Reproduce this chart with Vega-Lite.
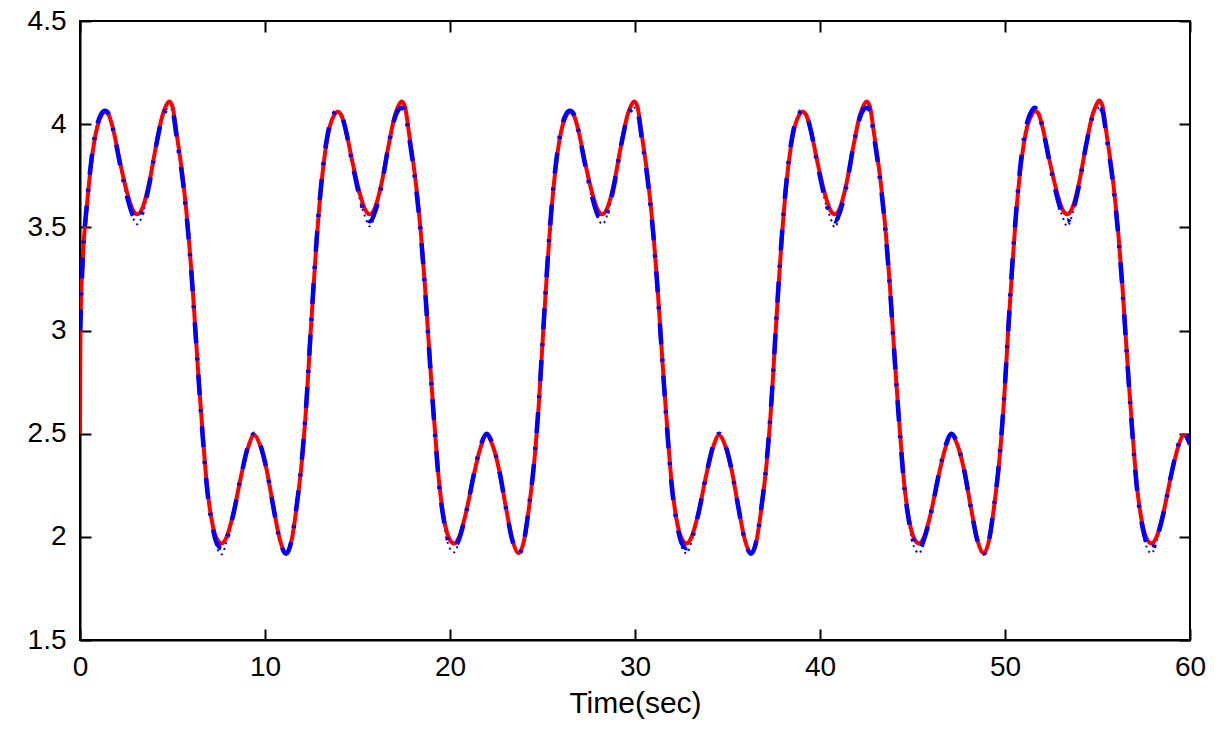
{
"$schema":"https://vega.github.io/schema/vega-lite/v6.json",
"width":1110,"height":619,
"autosize":"none",
"padding":{"left":80,"top":21,"right":25,"bottom":102},
"background":"white",
"config":{"view":{"stroke":"black","strokeWidth":2},
"axis":{"grid":false,"domainColor":"black","domainWidth":2,"tickColor":"black","tickWidth":2,"tickSize":-11,"labelFont":"Liberation Sans","labelFontSize":28,"labelColor":"black","titleFont":"Liberation Sans","titleFontSize":30,"titleFontWeight":"normal","titleColor":"black","labelOverlap":false,"labelFlush":false}},
"data":{"values":[
{"t":0,"r":2.5,"b":3.0,"d":3.0},
{"t":0.02,"r":2.95,"b":3.03,"d":3.03},
{"t":0.04,"r":3.085,"b":3.09,"d":3.09},
{"t":0.145,"r":3.34,"b":3.34,"d":3.34},
{"t":0.37,"r":3.6,"b":3.61,"d":3.61},
{"t":0.62,"r":3.82,"b":3.83,"d":3.83},
{"t":0.94,"r":3.99,"b":4.0,"d":4.0},
{"t":1.15,"r":4.04,"b":4.05,"d":4.05},
{"t":1.35,"r":4.06,"b":4.065,"d":4.065},
{"t":1.55,"r":4.045,"b":4.05,"d":4.05},
{"t":1.75,"r":3.99,"b":3.99,"d":3.99},
{"t":2.2,"r":3.8,"b":3.79,"d":3.79},
{"t":2.57,"r":3.66,"b":3.64,"d":3.63},
{"t":2.85,"r":3.585,"b":3.56,"d":3.55},
{"t":3.1,"r":3.563,"b":3.535,"d":3.515},
{"t":3.4,"r":3.6,"b":3.58,"d":3.57},
{"t":3.75,"r":3.72,"b":3.71,"d":3.71},
{"t":4.1,"r":3.89,"b":3.89,"d":3.89},
{"t":4.45,"r":4.04,"b":4.03,"d":4.03},
{"t":4.65,"r":4.09,"b":4.07,"d":4.07},
{"t":4.83,"r":4.11,"b":4.08,"d":4.08},
{"t":5.0,"r":4.085,"b":4.065,"d":4.065},
{"t":5.22,"r":3.956,"b":3.94,"d":3.94},
{"t":5.59,"r":3.713,"b":3.7,"d":3.7},
{"t":5.86,"r":3.471,"b":3.46,"d":3.46},
{"t":6.07,"r":3.229,"b":3.22,"d":3.22},
{"t":6.25,"r":2.986,"b":2.98,"d":2.98},
{"t":6.43,"r":2.744,"b":2.74,"d":2.74},
{"t":6.63,"r":2.501,"b":2.49,"d":2.49},
{"t":6.85,"r":2.259,"b":2.25,"d":2.25},
{"t":7.12,"r":2.081,"b":2.07,"d":2.06},
{"t":7.39,"r":1.992,"b":1.97,"d":1.95},
{"t":7.66,"r":1.968,"b":1.945,"d":1.915},
{"t":7.93,"r":2.0,"b":1.99,"d":1.98},
{"t":8.29,"r":2.114,"b":2.11,"d":2.11},
{"t":8.74,"r":2.308,"b":2.31,"d":2.31},
{"t":9.1,"r":2.437,"b":2.445,"d":2.445},
{"t":9.41,"r":2.493,"b":2.5,"d":2.5},
{"t":9.73,"r":2.445,"b":2.45,"d":2.45},
{"t":10.09,"r":2.324,"b":2.325,"d":2.325},
{"t":10.45,"r":2.146,"b":2.145,"d":2.145},
{"t":10.81,"r":1.984,"b":1.98,"d":1.98},
{"t":11.14,"r":1.92,"b":1.918,"d":1.918},
{"t":11.44,"r":1.984,"b":1.985,"d":1.985},
{"t":11.71,"r":2.146,"b":2.15,"d":2.15},
{"t":11.98,"r":2.356,"b":2.36,"d":2.36},
{"t":12.25,"r":2.663,"b":2.67,"d":2.67},
{"t":12.466,"r":2.99,"b":2.99,"d":2.99},
{"t":12.696,"r":3.31,"b":3.32,"d":3.32},
{"t":12.936,"r":3.6,"b":3.61,"d":3.61},
{"t":13.186,"r":3.82,"b":3.83,"d":3.83},
{"t":13.506,"r":3.99,"b":4.0,"d":4.0},
{"t":13.716,"r":4.04,"b":4.05,"d":4.05},
{"t":13.916,"r":4.06,"b":4.065,"d":4.065},
{"t":14.116,"r":4.045,"b":4.05,"d":4.05},
{"t":14.316,"r":3.99,"b":3.99,"d":3.99},
{"t":14.766,"r":3.8,"b":3.79,"d":3.79},
{"t":15.136,"r":3.66,"b":3.64,"d":3.63},
{"t":15.416,"r":3.585,"b":3.56,"d":3.55},
{"t":15.666,"r":3.563,"b":3.53,"d":3.505},
{"t":15.966,"r":3.6,"b":3.58,"d":3.57},
{"t":16.316,"r":3.72,"b":3.71,"d":3.71},
{"t":16.666,"r":3.89,"b":3.89,"d":3.89},
{"t":17.016,"r":4.04,"b":4.03,"d":4.03},
{"t":17.216,"r":4.09,"b":4.07,"d":4.07},
{"t":17.396,"r":4.11,"b":4.08,"d":4.08},
{"t":17.566,"r":4.085,"b":4.065,"d":4.065},
{"t":17.786,"r":3.956,"b":3.94,"d":3.94},
{"t":18.156,"r":3.713,"b":3.7,"d":3.7},
{"t":18.426,"r":3.471,"b":3.46,"d":3.46},
{"t":18.636,"r":3.229,"b":3.22,"d":3.22},
{"t":18.816,"r":2.986,"b":2.98,"d":2.98},
{"t":18.996,"r":2.744,"b":2.74,"d":2.74},
{"t":19.196,"r":2.501,"b":2.49,"d":2.49},
{"t":19.416,"r":2.259,"b":2.25,"d":2.25},
{"t":19.686,"r":2.081,"b":2.07,"d":2.06},
{"t":19.956,"r":1.992,"b":1.97,"d":1.95},
{"t":20.226,"r":1.968,"b":1.95,"d":1.925},
{"t":20.496,"r":2.0,"b":1.99,"d":1.98},
{"t":20.856,"r":2.114,"b":2.11,"d":2.11},
{"t":21.306,"r":2.308,"b":2.31,"d":2.31},
{"t":21.666,"r":2.437,"b":2.445,"d":2.445},
{"t":21.976,"r":2.493,"b":2.5,"d":2.5},
{"t":22.296,"r":2.445,"b":2.45,"d":2.45},
{"t":22.656,"r":2.324,"b":2.325,"d":2.325},
{"t":23.016,"r":2.146,"b":2.145,"d":2.145},
{"t":23.376,"r":1.984,"b":1.98,"d":1.98},
{"t":23.706,"r":1.92,"b":1.918,"d":1.918},
{"t":24.006,"r":1.984,"b":1.985,"d":1.985},
{"t":24.276,"r":2.146,"b":2.15,"d":2.15},
{"t":24.546,"r":2.356,"b":2.36,"d":2.36},
{"t":24.816,"r":2.663,"b":2.67,"d":2.67},
{"t":25.033,"r":2.99,"b":2.99,"d":2.99},
{"t":25.263,"r":3.31,"b":3.32,"d":3.32},
{"t":25.503,"r":3.6,"b":3.61,"d":3.61},
{"t":25.753,"r":3.82,"b":3.83,"d":3.83},
{"t":26.073,"r":3.99,"b":4.0,"d":4.0},
{"t":26.283,"r":4.04,"b":4.05,"d":4.05},
{"t":26.483,"r":4.06,"b":4.065,"d":4.065},
{"t":26.683,"r":4.045,"b":4.05,"d":4.05},
{"t":26.883,"r":3.99,"b":3.99,"d":3.99},
{"t":27.333,"r":3.8,"b":3.79,"d":3.79},
{"t":27.703,"r":3.66,"b":3.64,"d":3.63},
{"t":27.983,"r":3.585,"b":3.56,"d":3.55},
{"t":28.233,"r":3.563,"b":3.535,"d":3.515},
{"t":28.533,"r":3.6,"b":3.58,"d":3.57},
{"t":28.883,"r":3.72,"b":3.71,"d":3.71},
{"t":29.233,"r":3.89,"b":3.89,"d":3.89},
{"t":29.583,"r":4.04,"b":4.03,"d":4.03},
{"t":29.783,"r":4.09,"b":4.07,"d":4.07},
{"t":29.963,"r":4.11,"b":4.08,"d":4.08},
{"t":30.133,"r":4.085,"b":4.065,"d":4.065},
{"t":30.353,"r":3.956,"b":3.94,"d":3.94},
{"t":30.723,"r":3.713,"b":3.7,"d":3.7},
{"t":30.993,"r":3.471,"b":3.46,"d":3.46},
{"t":31.203,"r":3.229,"b":3.22,"d":3.22},
{"t":31.383,"r":2.986,"b":2.98,"d":2.98},
{"t":31.563,"r":2.744,"b":2.74,"d":2.74},
{"t":31.763,"r":2.501,"b":2.49,"d":2.49},
{"t":31.983,"r":2.259,"b":2.25,"d":2.25},
{"t":32.253,"r":2.081,"b":2.07,"d":2.06},
{"t":32.523,"r":1.992,"b":1.97,"d":1.95},
{"t":32.793,"r":1.968,"b":1.945,"d":1.92},
{"t":33.063,"r":2.0,"b":1.99,"d":1.98},
{"t":33.423,"r":2.114,"b":2.11,"d":2.11},
{"t":33.873,"r":2.308,"b":2.31,"d":2.31},
{"t":34.233,"r":2.437,"b":2.445,"d":2.445},
{"t":34.543,"r":2.493,"b":2.5,"d":2.5},
{"t":34.863,"r":2.445,"b":2.45,"d":2.45},
{"t":35.223,"r":2.324,"b":2.325,"d":2.325},
{"t":35.583,"r":2.146,"b":2.145,"d":2.145},
{"t":35.943,"r":1.984,"b":1.98,"d":1.98},
{"t":36.273,"r":1.92,"b":1.918,"d":1.918},
{"t":36.573,"r":1.984,"b":1.985,"d":1.985},
{"t":36.843,"r":2.146,"b":2.15,"d":2.15},
{"t":37.113,"r":2.356,"b":2.36,"d":2.36},
{"t":37.383,"r":2.663,"b":2.67,"d":2.67},
{"t":37.599,"r":2.99,"b":2.99,"d":2.99},
{"t":37.829,"r":3.31,"b":3.32,"d":3.32},
{"t":38.069,"r":3.6,"b":3.61,"d":3.61},
{"t":38.319,"r":3.82,"b":3.83,"d":3.83},
{"t":38.639,"r":3.99,"b":4.0,"d":4.0},
{"t":38.849,"r":4.04,"b":4.05,"d":4.05},
{"t":39.049,"r":4.06,"b":4.065,"d":4.065},
{"t":39.249,"r":4.045,"b":4.05,"d":4.05},
{"t":39.449,"r":3.99,"b":3.99,"d":3.99},
{"t":39.899,"r":3.8,"b":3.79,"d":3.79},
{"t":40.269,"r":3.66,"b":3.64,"d":3.63},
{"t":40.549,"r":3.585,"b":3.56,"d":3.55},
{"t":40.799,"r":3.563,"b":3.53,"d":3.5},
{"t":41.099,"r":3.6,"b":3.58,"d":3.57},
{"t":41.449,"r":3.72,"b":3.71,"d":3.71},
{"t":41.799,"r":3.89,"b":3.89,"d":3.89},
{"t":42.149,"r":4.04,"b":4.03,"d":4.03},
{"t":42.349,"r":4.09,"b":4.07,"d":4.07},
{"t":42.529,"r":4.11,"b":4.08,"d":4.08},
{"t":42.699,"r":4.085,"b":4.065,"d":4.065},
{"t":42.919,"r":3.956,"b":3.94,"d":3.94},
{"t":43.289,"r":3.713,"b":3.7,"d":3.7},
{"t":43.559,"r":3.471,"b":3.46,"d":3.46},
{"t":43.769,"r":3.229,"b":3.22,"d":3.22},
{"t":43.949,"r":2.986,"b":2.98,"d":2.98},
{"t":44.129,"r":2.744,"b":2.74,"d":2.74},
{"t":44.329,"r":2.501,"b":2.49,"d":2.49},
{"t":44.549,"r":2.259,"b":2.25,"d":2.25},
{"t":44.819,"r":2.081,"b":2.07,"d":2.06},
{"t":45.089,"r":1.992,"b":1.97,"d":1.95},
{"t":45.359,"r":1.968,"b":1.94,"d":1.92},
{"t":45.629,"r":2.0,"b":1.99,"d":1.98},
{"t":45.989,"r":2.114,"b":2.11,"d":2.11},
{"t":46.439,"r":2.308,"b":2.31,"d":2.31},
{"t":46.799,"r":2.437,"b":2.445,"d":2.445},
{"t":47.109,"r":2.493,"b":2.5,"d":2.5},
{"t":47.429,"r":2.445,"b":2.45,"d":2.45},
{"t":47.789,"r":2.324,"b":2.325,"d":2.325},
{"t":48.149,"r":2.146,"b":2.145,"d":2.145},
{"t":48.509,"r":1.984,"b":1.98,"d":1.98},
{"t":48.839,"r":1.92,"b":1.918,"d":1.918},
{"t":49.139,"r":1.984,"b":1.985,"d":1.985},
{"t":49.409,"r":2.146,"b":2.15,"d":2.15},
{"t":49.679,"r":2.356,"b":2.36,"d":2.36},
{"t":49.949,"r":2.663,"b":2.67,"d":2.67},
{"t":50.165,"r":2.99,"b":2.99,"d":2.99},
{"t":50.395,"r":3.31,"b":3.32,"d":3.32},
{"t":50.635,"r":3.6,"b":3.61,"d":3.61},
{"t":50.885,"r":3.82,"b":3.84,"d":3.84},
{"t":51.205,"r":3.99,"b":4.01,"d":4.01},
{"t":51.415,"r":4.04,"b":4.06,"d":4.06},
{"t":51.615,"r":4.065,"b":4.08,"d":4.08},
{"t":51.815,"r":4.05,"b":4.06,"d":4.06},
{"t":52.015,"r":3.99,"b":3.99,"d":3.99},
{"t":52.465,"r":3.8,"b":3.79,"d":3.79},
{"t":52.835,"r":3.66,"b":3.64,"d":3.63},
{"t":53.115,"r":3.585,"b":3.56,"d":3.55},
{"t":53.365,"r":3.563,"b":3.53,"d":3.505},
{"t":53.665,"r":3.6,"b":3.58,"d":3.57},
{"t":54.015,"r":3.72,"b":3.71,"d":3.71},
{"t":54.365,"r":3.89,"b":3.89,"d":3.89},
{"t":54.715,"r":4.04,"b":4.03,"d":4.03},
{"t":54.915,"r":4.09,"b":4.07,"d":4.07},
{"t":55.095,"r":4.115,"b":4.08,"d":4.08},
{"t":55.265,"r":4.09,"b":4.065,"d":4.065},
{"t":55.485,"r":3.956,"b":3.94,"d":3.94},
{"t":55.855,"r":3.713,"b":3.7,"d":3.7},
{"t":56.125,"r":3.471,"b":3.46,"d":3.46},
{"t":56.335,"r":3.229,"b":3.22,"d":3.22},
{"t":56.515,"r":2.986,"b":2.98,"d":2.98},
{"t":56.695,"r":2.744,"b":2.74,"d":2.74},
{"t":56.895,"r":2.501,"b":2.49,"d":2.49},
{"t":57.115,"r":2.259,"b":2.25,"d":2.25},
{"t":57.385,"r":2.081,"b":2.07,"d":2.06},
{"t":57.655,"r":1.992,"b":1.97,"d":1.95},
{"t":57.925,"r":1.968,"b":1.935,"d":1.92},
{"t":58.195,"r":2.0,"b":1.99,"d":1.98},
{"t":58.555,"r":2.114,"b":2.11,"d":2.11},
{"t":59.005,"r":2.308,"b":2.31,"d":2.31},
{"t":59.365,"r":2.437,"b":2.445,"d":2.445},
{"t":59.675,"r":2.493,"b":2.5,"d":2.5},
{"t":60,"r":2.445,"b":2.45,"d":2.45}
]},
"layer":[
{"encoding":{"x":{"field":"t","type":"quantitative","scale":{"domain":[0,60],"nice":false,"zero":false},
"axis":{"values":[0,10,20,30,40,50,60],"title":"Time(sec)","labelPadding":24,"titlePadding":7}}},
"layer":[
{"mark":{"type":"line","color":"#0000ff","strokeWidth":2,"strokeDash":[2,4],"interpolate":"monotone","clip":true},
"encoding":{"y":{"field":"d","type":"quantitative","scale":{"domain":[1.5,4.5],"nice":false,"zero":false},
"axis":{"values":[1.5,2,2.5,3,3.5,4,4.5],"format":"~g","title":null,"labelPadding":25}}}},
{"mark":{"type":"line","color":"#ff0000","strokeWidth":4,"interpolate":"monotone","clip":true},
"encoding":{"y":{"field":"r","type":"quantitative","scale":{"domain":[1.5,4.5],"nice":false,"zero":false},"title":null}}},
{"mark":{"type":"line","color":"#0000ff","strokeWidth":4.5,"strokeDash":[21,14,3,14],"interpolate":"monotone","clip":true},
"encoding":{"y":{"field":"b","type":"quantitative","scale":{"domain":[1.5,4.5],"nice":false,"zero":false},"title":null}}}
]},
{"mark":{"type":"point","opacity":0},
"encoding":{"x":{"field":"t","type":"quantitative","scale":{"domain":[0,60],"nice":false,"zero":false},
"axis":{"orient":"top","values":[0,10,20,30,40,50,60],"labels":false,"title":null,"domain":false}},
"y":{"field":"r","type":"quantitative","scale":{"domain":[1.5,4.5],"nice":false,"zero":false},
"axis":{"orient":"right","values":[1.5,2,2.5,3,3.5,4,4.5],"labels":false,"title":null,"domain":false}}}}
],
"resolve":{"scale":{"x":"independent","y":"independent"}}
}
